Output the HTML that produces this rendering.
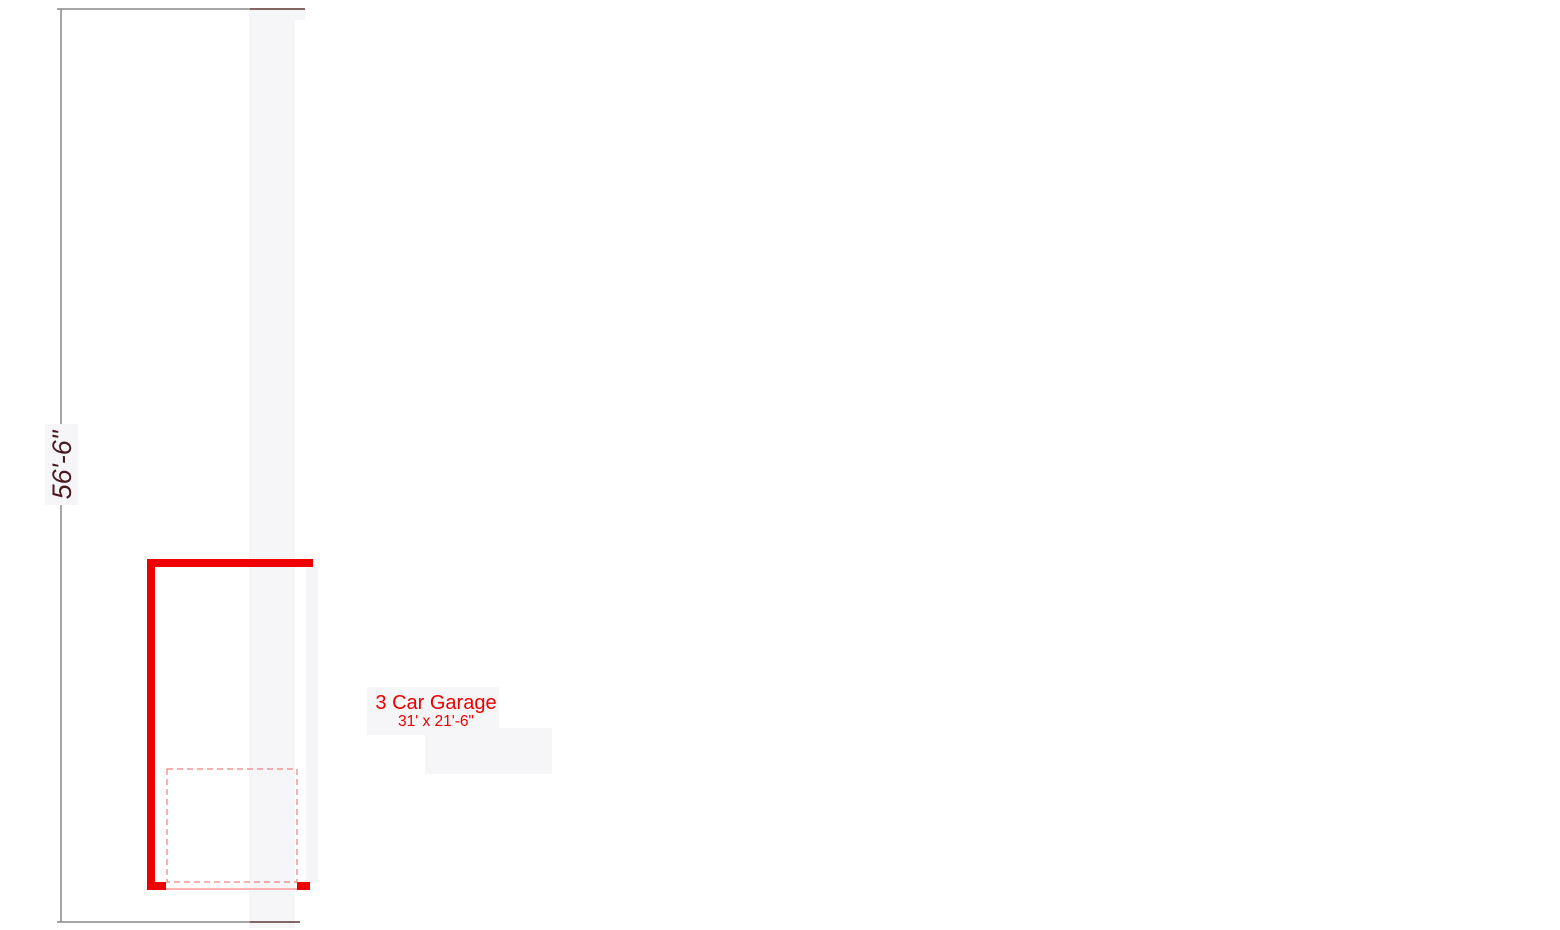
<!DOCTYPE html>
<html><head><meta charset="utf-8"><style>
html,body{margin:0;padding:0;background:#fff;width:1560px;height:930px;overflow:hidden}
</style></head><body>
<svg width="1560" height="930" viewBox="0 0 1560 930" xmlns="http://www.w3.org/2000/svg">
<rect width="1560" height="930" fill="#fff"/>
<rect x="249" y="8" width="46" height="920" fill="#f6f6f8"/>
<rect x="249" y="8" width="56" height="12" fill="#f6f6f8"/>
<rect x="306" y="567" width="12" height="315" fill="#f6f6f8"/>
<line x1="61" y1="9" x2="61" y2="922" stroke="#888" stroke-width="1.5"/>
<line x1="57" y1="9" x2="250" y2="9" stroke="#888" stroke-width="1.5"/>
<line x1="250" y1="9" x2="305" y2="9" stroke="#401010" stroke-width="1.2"/>
<line x1="57" y1="922" x2="250" y2="922" stroke="#888" stroke-width="1.5"/>
<line x1="250" y1="922" x2="300" y2="922" stroke="#401010" stroke-width="1.2"/>
<rect x="45" y="424" width="33" height="81" fill="#f6f6f8"/>
<text transform="translate(71,465) rotate(-90)" text-anchor="middle" font-family="Liberation Sans, sans-serif" font-style="italic" font-size="27" fill="#4a1a22">56'-6"</text>
<rect x="147" y="559" width="166" height="8" fill="#ee0000"/>
<rect x="147" y="559" width="8" height="331" fill="#ee0000"/>
<rect x="147" y="882" width="19" height="8" fill="#ee0000"/>
<rect x="297" y="882" width="13" height="8" fill="#ee0000"/>
<line x1="166" y1="889" x2="297" y2="889" stroke="#f88" stroke-width="1.2"/>
<rect x="167" y="769" width="130" height="113" fill="none" stroke="#f08080" stroke-width="1.2" stroke-dasharray="6,4"/>
<rect x="367" y="687" width="132" height="48" fill="#f6f6f8"/>
<rect x="425" y="728" width="127" height="46" fill="#f6f6f8"/>
<text x="436" y="709" text-anchor="middle" font-family="Liberation Sans, sans-serif" font-size="20" fill="#ee0000">3 Car Garage</text>
<text x="436" y="726" text-anchor="middle" font-family="Liberation Sans, sans-serif" font-size="15.5" fill="#ee0000">31' x 21'-6"</text>
</svg>
</body></html>
